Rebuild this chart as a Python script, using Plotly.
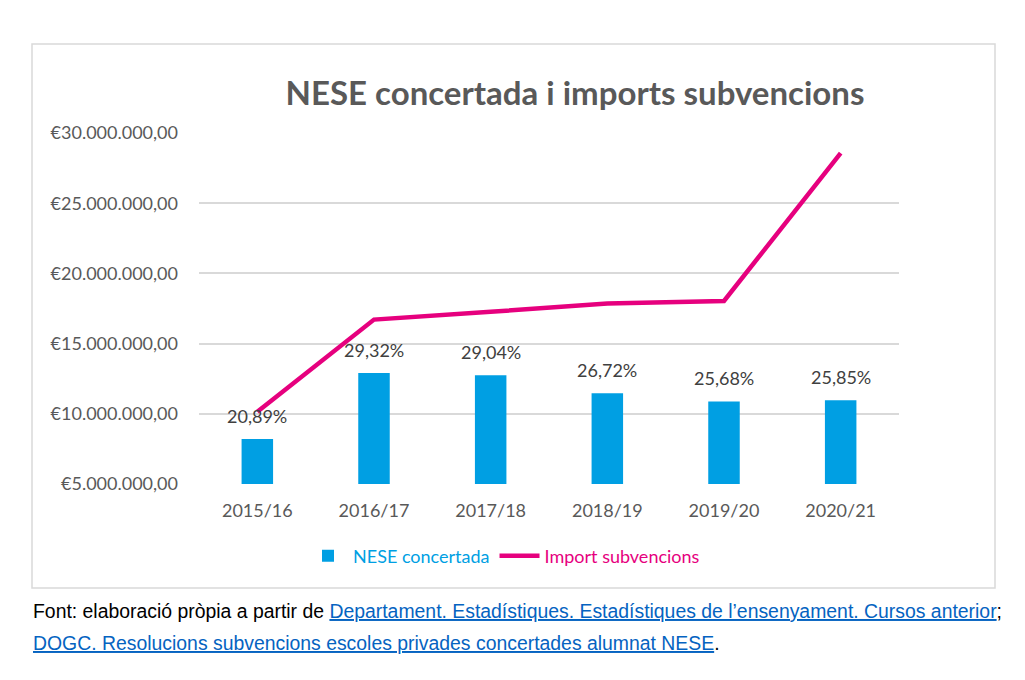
import plotly.graph_objects as go

courses = ["2015/16", "2016/17", "2017/18", "2018/19", "2019/20", "2020/21"]
nese_pct = [20.89, 29.32, 29.04, 26.72, 25.68, 25.85]
subvencions = [10_140_000, 16_710_000, 17_270_000, 17_850_000, 18_040_000, 28_560_000]
y_ticks = [5_000_000, 10_000_000, 15_000_000, 20_000_000, 25_000_000, 30_000_000]
y_tick_labels = ["€5.000.000,00", "€10.000.000,00", "€15.000.000,00",
                 "€20.000.000,00", "€25.000.000,00", "€30.000.000,00"]

BLUE = "#009FE3"
PINK = "#E6007E"
FONT = "Lato, Open Sans, sans-serif"
NARROW = "Liberation Sans Narrow, Arial Narrow, Liberation Sans, sans-serif"

fig = go.Figure()
fig.add_trace(go.Bar(
    x=courses, y=nese_pct, yaxis="y2", width=0.27,
    marker=dict(color=BLUE, line=dict(width=0)),
    name='<span style="color:#009FE3">NESE concertada</span>',
))
fig.add_trace(go.Scatter(
    x=courses, y=subvencions, yaxis="y", mode="lines",
    line=dict(color=PINK, width=4.5),
    name='<span style="color:#E6007E">Import subvencions</span>',
))

for c, p in zip(courses, nese_pct):
    fig.add_annotation(x=c, y=p, yref="y2", text=f"{p:.2f}%".replace(".", ","),
                       showarrow=False, yanchor="middle", yshift=23,
                       font=dict(family=FONT, size=18, color="#404040"))

# chart frame
fig.add_shape(type="rect", xref="paper", yref="paper",
              x0=(32 - 199) / 700, x1=(995 - 199) / 700,
              y0=(484 - 588) / 351, y1=(484 - 44) / 351,
              line=dict(color="#D9D9D9", width=1.5), fillcolor="rgba(0,0,0,0)", layer="below")

link = 'style="color:#0563C1;text-decoration:underline"'
fig.add_annotation(xref="paper", yref="paper", x=(31 - 199) / 700, y=(484 - 611) / 351,
                   xanchor="left", yanchor="middle", showarrow=False, align="left",
                   text=f'Font: elaboració pròpia a partir de <span {link}>Departament. Estadístiques. Estadístiques de l’ensenyament. Cursos anterior</span>;',
                   font=dict(family=NARROW, size=19.4, color="#000000"))
fig.add_annotation(xref="paper", yref="paper", x=(31 - 199) / 700, y=(484 - 643) / 351,
                   xanchor="left", yanchor="middle", showarrow=False, align="left",
                   text=f'<span {link}>DOGC. Resolucions subvencions escoles privades concertades alumnat NESE</span>.',
                   font=dict(family=NARROW, size=19.4, color="#000000"))

fig.update_layout(
    width=1025, height=680,
    margin=dict(l=199, r=126, t=133, b=196),
    paper_bgcolor="white", plot_bgcolor="white",
    title=dict(text="<b>NESE concertada i imports subvencions</b>",
               x=575 / 1025, xanchor="center", y=1 - 93 / 680, yanchor="middle",
               font=dict(family=FONT, size=33, color="#595959")),
    font=dict(family=FONT, color="#595959"),
    showlegend=True,
    legend=dict(orientation="h", x=(504 - 199) / 700, xanchor="center",
                y=(484 - 556) / 351, yanchor="middle",
                font=dict(family=FONT, size=18, color="#595959"),
                bgcolor="rgba(0,0,0,0)", itemwidth=40),
    xaxis=dict(showgrid=False, showline=False, ticks="", tickfont=dict(size=18, color="#595959"),
               ticklabelstandoff=14),
    yaxis=dict(range=[5_000_000, 30_000_000], tickvals=y_ticks, ticktext=y_tick_labels,
               showgrid=True, gridcolor="#D9D9D9", gridwidth=1.5, zeroline=False,
               showline=False, ticks="", tickfont=dict(size=18, color="#595959"),
               ticklabelstandoff=20),
    yaxis2=dict(range=[15.14, 59.97], overlaying="y", side="right", visible=False),
    bargap=0.73,
)

fig.write_html("out.html")
